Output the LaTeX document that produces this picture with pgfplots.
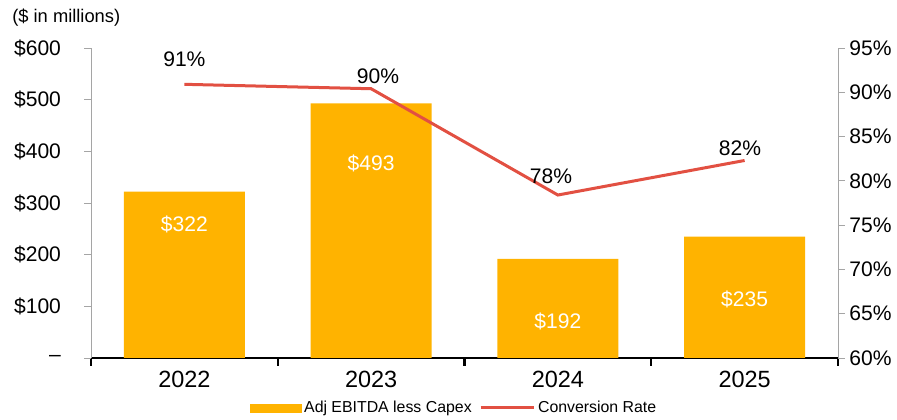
\documentclass[border=0pt]{standalone}
\usepackage{fontspec}
\setmainfont{Liberation Sans}
\usepackage{pgfplots}
\pgfplotsset{compat=1.18}
\definecolor{barOrange}{RGB}{255,179,0}
\definecolor{rateRed}{RGB}{226,80,66}
\definecolor{axisGray}{RGB}{165,165,165}

\begin{document}
\begin{tikzpicture}
\path[use as bounding box] (-68.25pt,-46.5pt) rectangle (604.5pt,268.5pt);
% left axis: bars
\begin{axis}[
    scale only axis, width=560.25pt, height=232.5pt,
    xmin=-0.5, xmax=3.5, ymin=0, ymax=600,
    axis x line*=bottom, axis y line*=left,
    x axis line style={black, line width=2.2pt},
    y axis line style={axisGray, line width=0.7pt},
    xtick={0,1,2,3}, xticklabels={2022,2023,2024,2025},
    major x tick style={draw=none},
    minor xtick={-0.5,0.5,1.5,2.5,3.5},
    minor x tick style={black, line width=1.6pt},
    minor tick length=6pt,
    ytick={0,100,...,600},
    yticklabels={--,\$100,\$200,\$300,\$400,\$500,\$600},
    y tick style={axisGray, line width=0.7pt},
    major tick length=5pt,
    tick align=outside,
    xticklabel style={font=\fontsize{17.6}{20}\selectfont, yshift=-1.5pt},
    yticklabel style={font=\fontsize{15.8}{18}\selectfont, xshift=-14pt},
    clip=false,
]
\addplot[ybar, bar width=90.75pt, bar shift=0pt, fill=barOrange, draw=none]
    coordinates {(0,322) (1,493) (2,192) (3,235)};
\node[white, font=\fontsize{15.8}{18}\selectfont] at (axis cs:0,259) {\$322};
\node[white, font=\fontsize{15.8}{18}\selectfont] at (axis cs:1,377) {\$493};
\node[white, font=\fontsize{15.8}{18}\selectfont] at (axis cs:2,70) {\$192};
\node[white, font=\fontsize{15.8}{18}\selectfont] at (axis cs:3,114) {\$235};
\end{axis}
% right axis: conversion rate
\begin{axis}[
    scale only axis, width=560.25pt, height=232.5pt,
    xmin=-0.5, xmax=3.5, ymin=60, ymax=95,
    axis x line=none, axis y line*=right,
    y axis line style={axisGray, line width=0.7pt},
    ytick={60,65,...,95},
    yticklabels={60\%,65\%,70\%,75\%,80\%,85\%,90\%,95\%},
    y tick style={axisGray, line width=0.7pt},
    major tick length=5pt,
    tick align=outside,
    yticklabel style={font=\fontsize{15.8}{18}\selectfont},
    clip=false,
    legend columns=2,
    legend style={at={(0.2129,-0.161)}, anchor=west, draw=none, inner sep=0pt,
        font=\fontsize{11.9}{14}\selectfont,
        /tikz/every even column/.append style={column sep=3.5pt}},
]
\addlegendimage{legend image code/.code={\fill[barOrange] (0pt,-3pt) rectangle (38pt,3pt);}}
\addlegendentry{Adj EBITDA less Capex}
\addplot[rateRed, line width=2.25pt,
    legend image code/.code={\draw[rateRed, line width=2.25pt] (0pt,0pt) -- (40pt,0pt);}]
    coordinates {(0,90.9) (1,90.4) (2,78.4) (3,82.3)};
\addlegendentry{Conversion Rate}
\node[font=\fontsize{15.8}{18}\selectfont] at (axis cs:0,93.76) {91\%};
\node[font=\fontsize{15.8}{18}\selectfont] at (axis cs:1.037,91.84) {90\%};
\node[font=\fontsize{15.8}{18}\selectfont] at (axis cs:1.963,80.55) {78\%};
\node[font=\fontsize{15.8}{18}\selectfont] at (axis cs:2.975,83.7) {82\%};
\end{axis}
\node[anchor=base west, inner sep=0pt, font=\fontsize{13.75}{16}\selectfont] at (-59.25pt,251.25pt) {(\$ in millions)};
\end{tikzpicture}
\end{document}
